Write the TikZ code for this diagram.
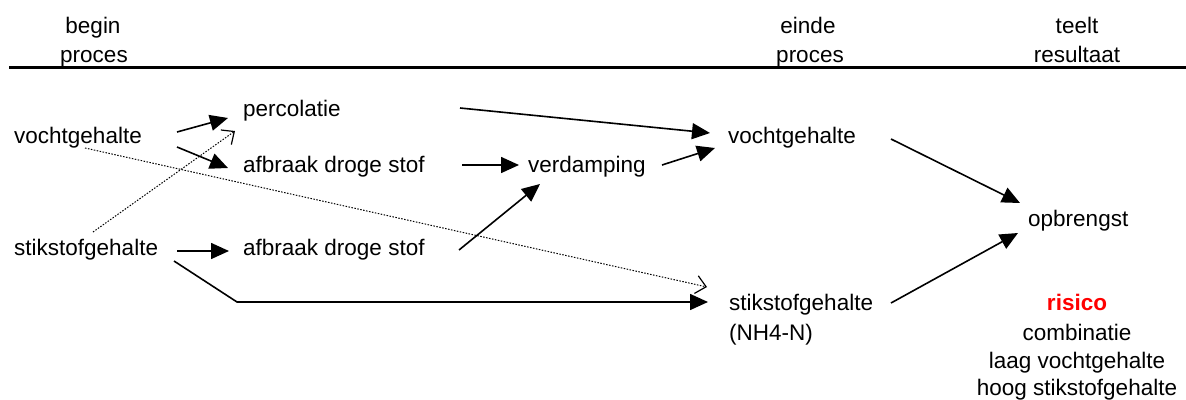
\documentclass[tikz,border=0pt]{standalone}
\usepackage{fontspec}
\setmainfont{Liberation Sans}
\usetikzlibrary{arrows.meta,calc}
\definecolor{risicored}{RGB}{255,0,0}
\begin{document}
\begin{tikzpicture}[x=1pt,y=-1pt,
  lbl/.style={inner sep=0pt,anchor=base west,font=\fontsize{22.5}{29}\selectfont},
  clbl/.style={inner sep=0pt,anchor=base,font=\fontsize{22.5}{29}\selectfont},
  arr/.style={line width=1.6pt,-{Triangle[length=18pt,width=16pt]}},
  darr/.style={line width=1pt,dash pattern=on 1.5pt off 1.5pt,-{Straight Barb[length=10pt,width=18pt,line width=1.2pt]}}]
\useasboundingbox (0,0) rectangle (1186,399);
% header
\node[clbl] (hb1) at (93,33) {begin};
\node[clbl] (hb2) at (94,62) {proces};
\node[clbl] (he1) at (808,33) {einde};
\node[clbl] (he2) at (810,62) {proces};
\node[clbl] (ht1) at (1077,33) {teelt};
\node[clbl] (ht2) at (1077,62) {resultaat};
\draw[line width=3pt] (9,67) -- (1186,67);
% nodes
\node[lbl] (vl) at (14,143) {vochtgehalte};
\node[lbl] (sl) at (14,255) {stikstofgehalte};
\node[lbl] (perc) at (243,116) {percolatie};
\node[lbl] (af1) at (243,172) {afbraak droge stof};
\node[lbl] (af2) at (243,255) {afbraak droge stof};
\node[lbl] (verd) at (528,172) {verdamping};
\node[lbl] (vr) at (728,143) {vochtgehalte};
\node[lbl] (sr) at (729,310) {stikstofgehalte};
\node[lbl] (nh) at (729,340) {(NH4-N)};
\node[lbl] (opb) at (1028,226) {opbrengst};
\node[clbl,text=risicored,font=\fontsize{22.5}{29}\selectfont\bfseries] (r1) at (1077,310) {risico};
\node[clbl] (r2) at (1077,340) {combinatie};
\node[clbl] (r3) at (1077,368) {laag vochtgehalte};
\node[clbl] (r4) at (1077,395) {hoog stikstofgehalte};
% connectors
\draw[arr] ($(vl.base west)+(163,-11)$) -- ($(perc.base west)+(-15,2)$);
\draw[arr] ($(vl.base west)+(163,4)$) -- ($(af1.base west)+(-15,-4)$);
\draw[darr] ($(sl.base west)+(79,-23)$) -- ($(perc.base west)+(-8,15)$);
\draw[darr] ($(vl.base west)+(71,5)$) -- ($(sr.base west)+(-22,-23)$);
\draw[arr] ($(sl.base west)+(163,-4)$) -- ($(af2.base west)+(-14,-4)$);
\draw[arr] ($(sl.base west)+(160,6)$) -- ++(63,41) -- ($(sr.base west)+(-21,-8)$);
\draw[arr] ($(perc.base west)+(217,-8)$) -- ($(vr.base west)+(-18,-10)$);
\draw[arr] ($(af1.base west)+(219,-7)$) -- ($(verd.base west)+(-9,-7)$);
\draw[arr] ($(af2.base west)+(216,-5)$) -- ($(verd.base west)+(12,12)$);
\draw[arr] ($(verd.base west)+(134,-7)$) -- ($(vr.base west)+(-13,5)$);
\draw[arr] ($(vr.base west)+(163,-4)$) -- ($(opb.base west)+(-8,-23)$);
\draw[arr] ($(sr.base west)+(162,-7)$) -- ($(opb.base west)+(-10,7)$);
\end{tikzpicture}
\end{document}
